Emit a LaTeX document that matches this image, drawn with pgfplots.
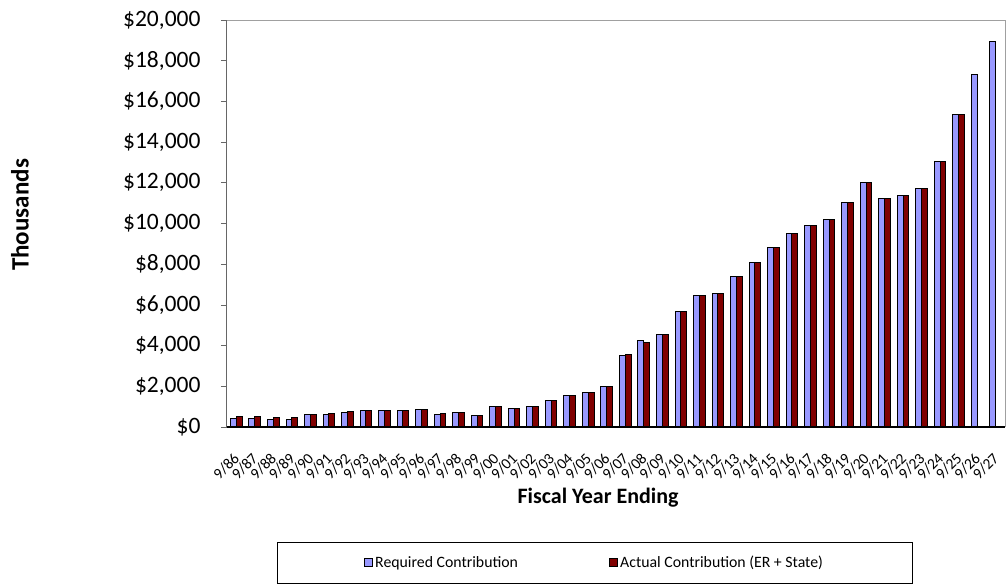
\documentclass[border=0pt]{standalone}
\usepackage{pgfplots}
\usepackage{pgfplotstable}
\pgfplotsset{compat=1.18}
\usepackage{fontspec}
\setmainfont{Carlito}

\definecolor{reqblue}{RGB}{153,153,255}
\definecolor{actred}{RGB}{128,0,0}
\definecolor{frame}{RGB}{160,160,160}

% Required contribution, fiscal years ending 9/86 ... 9/27 (thousands)
\pgfplotstableread{
idx label req
0 9/86 410
1 9/87 410
2 9/88 377
3 9/89 377
4 9/90 624
5 9/91 624
6 9/92 737
7 9/93 819
8 9/94 819
9 9/95 835
10 9/96 868
11 9/97 624
12 9/98 721
13 9/99 573
14 9/00 1015
15 9/01 915
16 9/02 1017
17 9/03 1327
18 9/04 1557
19 9/05 1690
20 9/06 2015
21 9/07 3490
22 9/08 4227
23 9/09 4555
24 9/10 5700
25 9/11 6455
26 9/12 6536
27 9/13 7420
28 9/14 8078
29 9/15 8830
30 9/16 9518
31 9/17 9911
32 9/18 10206
33 9/19 11056
34 9/20 12039
35 9/21 11220
36 9/22 11400
37 9/23 11730
38 9/24 13040
39 9/25 15350
40 9/26 17330
41 9/27 18920
}\reqtable

% Actual contribution (ER + State), through 9/25
\pgfplotstableread{
idx act
0 511
1 511
2 459
3 491
4 624
5 688
6 754
7 819
8 819
9 835
10 884
11 655
12 704
13 573
14 999
15 915
16 1017
17 1327
18 1557
19 1690
20 2015
21 3540
22 4177
23 4555
24 5700
25 6455
26 6536
27 7420
28 8078
29 8830
30 9518
31 9911
32 10206
33 11056
34 12039
35 11220
36 11400
37 11730
38 13040
39 15350
}\acttable

\begin{document}
\begin{tikzpicture}
\useasboundingbox (-227pt,-160pt) rectangle (779pt,427pt);
\begin{axis}[
  scale only axis,
  width=778pt, height=407pt,
  xmin=-0.5, xmax=41.5,
  ymin=0, ymax=20000,
  ybar=0pt, bar width=5.8pt,
  axis line style={draw=none},
  xtick=data,
  xticklabels from table={\reqtable}{label},
  xtick style={draw=none},
  xticklabel style={font=\fontsize{15.5}{16}\selectfont, rotate=45, anchor=east, xshift=-12.5pt, yshift=-16.6pt},
  ytick={0,2000,...,20000},
  yticklabels={{\$0},{\$2,000},{\$4,000},{\$6,000},{\$8,000},{\$10,000},{\$12,000},{\$14,000},{\$16,000},{\$18,000},{\$20,000}},
  scaled y ticks=false,
  ytick align=outside, ytick pos=left,
  ytick style={draw=black!60, line width=0.8pt},
  major tick length=6pt,
  yticklabel style={font=\fontsize{23.5}{24}\selectfont, xshift=-17pt},
  ylabel={\textbf{Thousands}},
  ylabel style={at={(rel axis cs:0,0.521)}, anchor=center, yshift=207pt, font=\fontsize{25}{25}\selectfont},
  xlabel={\textbf{Fiscal Year Ending}},
  xlabel style={at={(rel axis cs:0.477,0)}, anchor=center, yshift=-71pt, font=\fontsize{22}{22}\selectfont},
  legend columns=2,
  legend style={at={(rel axis cs:0.4724,0)}, anchor=center, yshift=-135.5pt,
    draw=black, line width=0.8pt, inner xsep=87pt, inner ysep=12pt,
    font=\fontsize{15.8}{18}\selectfont,
    /tikz/every even column/.append style={column sep=89pt}},
  legend image code/.code={\draw[#1, line width=1.2pt] (0pt,-4pt) rectangle (8pt,4pt);},
  clip=false,
]
\addplot[fill=reqblue, draw=black, line width=1pt] table[x=idx, y=req] {\reqtable};
\addlegendentry{Required Contribution}
\addplot[fill=actred, draw=black, line width=1pt] table[x=idx, y=act] {\acttable};
\addlegendentry{Actual Contribution (ER + State)}
% plot area frame
\draw[frame, line width=1pt] (rel axis cs:0,1) -- (rel axis cs:1,1) -- (rel axis cs:1,0);
\draw[black!60, line width=1pt] (rel axis cs:0,0) -- (rel axis cs:0,1);
\draw[black, line width=1.6pt] (rel axis cs:0,0) -- (rel axis cs:1,0);
\end{axis}
\end{tikzpicture}
\end{document}
